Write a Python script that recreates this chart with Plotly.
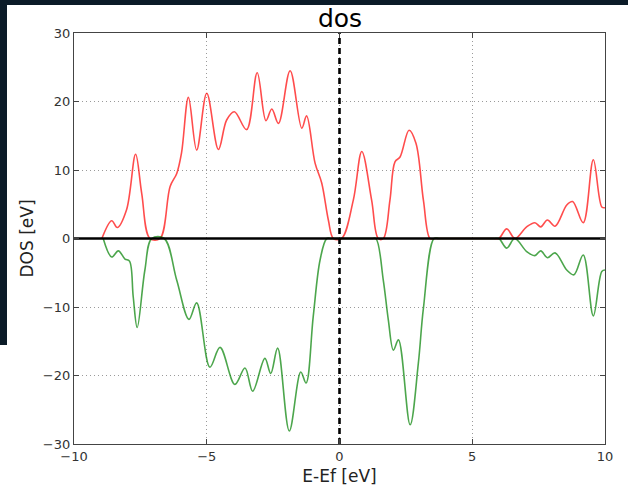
import plotly.graph_objects as go

# Spin-up DOS (red, positive)
up_energy = [-8.95, -8.58, -8.37, -8.02, -7.68, -7.45, -7.14, -6.76, -6.38, -6.13, -5.95,
             -5.69, -5.38, -5.0, -4.56, -4.25, -3.96, -3.5, -3.1, -2.77, -2.55, -2.3,
             -1.86, -1.42, -1.24, -0.92, -0.67, -0.42, -0.23, 0.08, 0.52, 0.84, 1.21,
             1.46, 1.65, 1.9, 2.09, 2.28, 2.62, 2.88, 3.16, 3.41, 3.6, 5.8, 6.0, 6.3, 6.61,
             7.05, 7.36, 7.58, 7.83, 8.12, 8.56, 8.78, 9.18, 9.56, 9.88, 10.0]
up_dos = [0.0, 2.6, 1.6, 4.2, 12.3, 6.6, 0.0, 0.0, 7.6, 9.5, 12.5,
          20.6, 12.9, 21.2, 13.0, 17.3, 18.5, 15.9, 24.2, 17.2, 18.9, 16.8,
          24.5, 16.1, 17.9, 11.0, 8.1, 2.7, 0.0, 0.0, 5.6, 12.7, 5.6,
          0.0, 0.0, 5.6, 11.2, 11.9, 15.8, 13.9, 5.6, 0.0, 0.0, 0.0, 0.0, 1.4, 0.0,
          1.7, 2.3, 1.7, 2.7, 1.8, 4.9, 5.4, 2.3, 11.5, 4.6, 4.5]

# Spin-down DOS (green, negative)
down_energy = [-8.9, -8.58, -8.33, -8.08, -7.91, -7.77, -7.62, -7.33, -7.07, -6.6, -6.13,
               -5.67, -5.38, -4.88, -4.5, -3.94, -3.56, -3.27, -2.81, -2.59, -2.33,
               -1.89, -1.46, -1.26, -0.99, -0.73, -0.48, -0.3, 1.2, 1.37, 1.65, 1.84, 2.03, 2.22,
               2.66, 2.97, 3.16, 3.56, 3.75, 5.8, 6.0, 6.3, 6.6, 7.05, 7.36, 7.58, 7.83, 8.12,
               8.56, 8.83, 9.18, 9.56, 9.88, 10.0]
down_dos = [0.0, -2.7, -1.8, -3.0, -3.3, -8.5, -13.0, -4.6, 0.0, 0.0, -6.1,
            -11.8, -9.4, -18.8, -15.9, -21.3, -18.9, -22.3, -17.5, -19.7, -16.0,
            -28.1, -19.5, -21.1, -11.4, -3.1, 0.0, 0.0, 0.0, 0.0, -6.1, -11.9, -16.3, -14.8,
            -27.2, -18.2, -10.2, 0.0, 0.0, 0.0, 0.0, -1.4, 0.0, -1.9, -2.5, -1.8, -2.8, -2.1,
            -4.6, -5.3, -2.4, -11.3, -4.8, -4.6]

zero_x = [-10, 10]
zero_y = [0, 0]
fermi_x = [0, 0]
fermi_y = [-30, 30]

x_ticks = [-10, -5, 0, 5, 10]
y_ticks = [-30, -20, -10, 0, 10, 20, 30]

fig = go.Figure()
fig.add_trace(go.Scatter(x=up_energy, y=up_dos, mode="lines",
                         line=dict(color="rgba(255,0,0,0.7)", width=1.6, shape="spline", smoothing=1.0),
                         showlegend=False))
fig.add_trace(go.Scatter(x=down_energy, y=down_dos, mode="lines",
                         line=dict(color="rgba(0,128,0,0.7)", width=1.6, shape="spline", smoothing=1.0),
                         showlegend=False))
fig.add_trace(go.Scatter(x=zero_x, y=zero_y, mode="lines",
                         line=dict(color="black", width=2.6), showlegend=False))
fig.add_trace(go.Scatter(x=fermi_x, y=fermi_y, mode="lines",
                         line=dict(color="black", width=2.6, dash="6px,4px"), showlegend=False))

# figure geometry: plot area px 74..605 horizontally, 33..444 vertically
L, R, T, B = 74, 23, 33, 50
W, H = 628, 494
pw, ph = W - L - R, H - T - B

def px2paper_x(p):
    return (p - L) / pw

def px2paper_y(p):
    return (H - B - p) / ph

dark = "#0b1b28"
shapes = [
    dict(type="rect", xref="paper", yref="paper", layer="above",
         x0=px2paper_x(0), x1=px2paper_x(W), y0=px2paper_y(5), y1=px2paper_y(0),
         fillcolor=dark, line=dict(width=0)),
    dict(type="rect", xref="paper", yref="paper", layer="above",
         x0=px2paper_x(0), x1=px2paper_x(7), y0=px2paper_y(345), y1=px2paper_y(0),
         fillcolor=dark, line=dict(width=0)),
]

axis_common = dict(
    showline=True, linecolor="#444444", linewidth=1.3, mirror="allticks",
    ticks="inside", ticklen=5, tickcolor="#444444", tickwidth=1,
    showgrid=True, gridcolor="#9a9a9a", gridwidth=1, griddash="1px,3px",
    zeroline=False,
    tickfont=dict(family="DejaVu Sans", size=13, color="#333333"),
)

fig.update_layout(
    width=W, height=H,
    margin=dict(l=L, r=R, t=T, b=B),
    paper_bgcolor="white", plot_bgcolor="white",
    title=dict(text="dos", x=340 / W, xanchor="center",
               y=1 - 18 / H, yanchor="middle", yref="container",
               font=dict(family="DejaVu Sans", size=25, color="black")),
    xaxis=dict(range=[-10, 10], tickvals=x_ticks,
               title=dict(text="E-Ef [eV]", standoff=7,
                          font=dict(family="DejaVu Sans", size=17, color="#222222")),
               **axis_common),
    yaxis=dict(range=[-30, 30], tickvals=y_ticks,
               title=dict(text="DOS [eV]", standoff=4,
                          font=dict(family="DejaVu Sans", size=17, color="#222222")),
               **axis_common),
    shapes=shapes,
)

fig.write_html("out.html", config={"displayModeBar": False},
               post_script="document.body.style.margin='0';document.body.style.overflow='hidden';")
